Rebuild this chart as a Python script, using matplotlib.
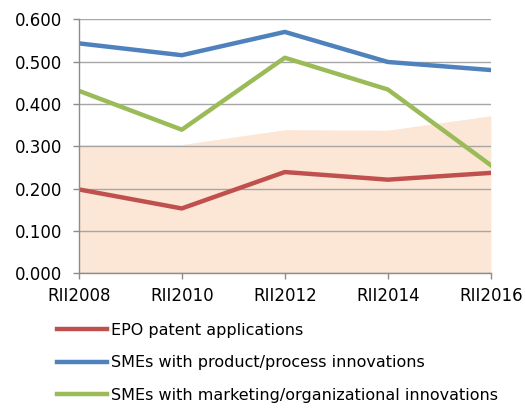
import matplotlib
matplotlib.use("Agg")
import matplotlib.pyplot as plt

categories = ["RII2008", "RII2010", "RII2012", "RII2014", "RII2016"]
epo = [0.198, 0.153, 0.239, 0.221, 0.237]
sme_prod = [0.543, 0.515, 0.570, 0.499, 0.480]
sme_mkt = [0.431, 0.339, 0.509, 0.434, 0.255]
area = [0.304, 0.304, 0.339, 0.338, 0.372]
yticks = [0.0, 0.1, 0.2, 0.3, 0.4, 0.5, 0.6]

plt.rcParams['font.family'] = ['DejaVu Sans']
fig = plt.figure(figsize=(5.25, 4.09), dpi=100)
ax = fig.add_axes([0.150, 0.332, 0.785, 0.621])
x = list(range(len(categories)))
ax.fill_between(x, 0, area, color="#FCE6D6", linewidth=0, zorder=1)
l1, = ax.plot(x, epo, color="#C0504D", lw=3.2, label="EPO patent applications", zorder=3)
l2, = ax.plot(x, sme_prod, color="#4F81BD", lw=3.2, label="SMEs with product/process innovations", zorder=3)
l3, = ax.plot(x, sme_mkt, color="#9BBB59", lw=3.2, label="SMEs with marketing/organizational innovations", zorder=3)

ax.set_xlim(0, len(categories) - 1)
ax.set_ylim(0, 0.6)
ax.set_yticks(yticks)
ax.set_yticklabels([f"{v:.3f}" for v in yticks])
ax.set_xticks(x)
ax.set_xticklabels(categories)
ax.grid(axis="y", color="#A6A6A6", lw=1.0, zorder=2)
ax.set_axisbelow(False)
for s in ["top", "right"]:
    ax.spines[s].set_visible(False)
for s in ["left", "bottom"]:
    ax.spines[s].set_color("#8C8C8C")
    ax.spines[s].set_linewidth(1.0)
    ax.spines[s].set_zorder(4)
ax.tick_params(axis="both", colors="#8C8C8C", labelcolor="black", labelsize=12, length=4.2, width=1.0)
ax.tick_params(axis="y", pad=8)
ax.tick_params(axis="x", pad=6)

fig.legend(handles=[l1, l2, l3], loc="upper left", bbox_to_anchor=(0.1086, 0.211),
           frameon=False, fontsize=11.5, handlelength=3.13, handletextpad=0.25,
           labelspacing=1.09, borderaxespad=0, borderpad=0)

fig.savefig("out.png", dpi=100)
